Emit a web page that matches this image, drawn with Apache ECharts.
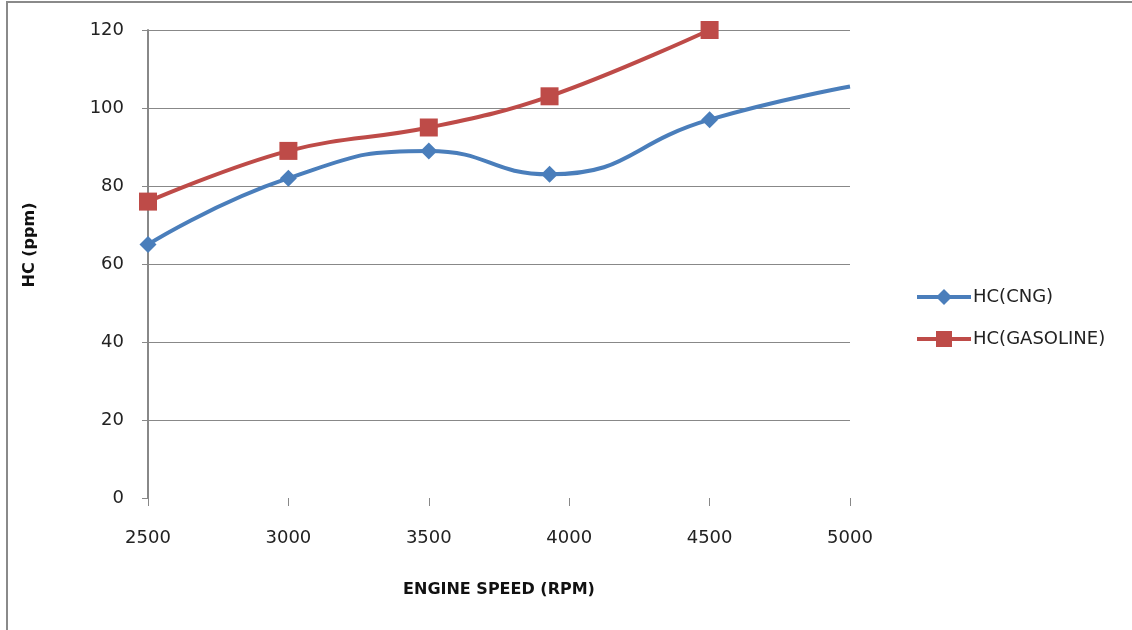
<!DOCTYPE html>
<html>
<head>
<meta charset="utf-8">
<script src="https://cdn.jsdelivr.net/npm/echarts@6/dist/echarts.min.js"></script>
<style>html,body{margin:0;padding:0;background:#fff;}#c{width:1132px;height:630px;}</style>
</head>
<body>
<div id="c"></div>
<script>
const seriesNames = ['HC(CNG)', 'HC(GASOLINE)'];
const cngRpm = [2500, 3000, 3500, 3930, 4500, 5000];
const cngHC = [65, 82, 89, 83, 97, 105.5];
const gasRpm = [2500, 3000, 3500, 3930, 4500];
const gasHC = [76, 89, 95, 103, 120];
const xTicks = [2500, 3000, 3500, 4000, 4500, 5000];
const yTicks = [0, 20, 40, 60, 80, 100, 120];

const font = 'DejaVu Sans';
const chart = echarts.init(document.getElementById('c'));
const cngData = cngRpm.map((x, i) => i === cngRpm.length - 1
  ? { value: [x, cngHC[i]], symbol: 'none' }
  : [x, cngHC[i]]);
const gasData = gasRpm.map((x, i) => [x, gasHC[i]]);

chart.setOption({
  animation: false,
  backgroundColor: '#fff',
  grid: { left: 148, right: 282, top: 30, bottom: 132, containLabel: false },
  xAxis: {
    type: 'value',
    min: xTicks[0], max: xTicks[xTicks.length - 1], interval: 500,
    axisLine: { show: false },
    axisTick: { show: true, length: 8, lineStyle: { color: '#888', width: 1 } },
    splitLine: { show: false },
    axisLabel: { color: '#222', fontFamily: font, fontSize: 18, margin: 31, formatter: v => String(v) },
    name: 'ENGINE SPEED (RPM)',
    nameLocation: 'middle',
    nameGap: 84,
    nameTextStyle: { color: '#111', fontFamily: font, fontWeight: 'bold', fontSize: 16 }
  },
  yAxis: {
    type: 'value',
    min: yTicks[0], max: yTicks[yTicks.length - 1], interval: 20,
    axisLine: { show: true, lineStyle: { color: '#888', width: 2 } },
    axisTick: { show: true, length: 6, lineStyle: { color: '#888', width: 1 } },
    splitLine: { show: true, showMinLine: false, lineStyle: { color: '#888', width: 1 } },
    axisLabel: { color: '#222', fontFamily: font, fontSize: 18, margin: 24, formatter: v => String(v) }
  },
  legend: {
    orient: 'vertical',
    left: 910, top: 283,
    itemGap: 24,
    itemWidth: 54, itemHeight: 20,
    lineStyle: { width: 4 },
    textStyle: { color: '#222', fontFamily: font, fontSize: 18, padding: [0, 0, 0, -3] },
    data: seriesNames
  },
  series: [
    {
      name: seriesNames[0], type: 'line', data: cngData, smooth: 0.5,
      symbol: 'diamond', symbolSize: 17,
      lineStyle: { color: '#4A7EBB', width: 4 },
      itemStyle: { color: '#4A7EBB' }
    },
    {
      name: seriesNames[1], type: 'line', data: gasData, smooth: 0.4,
      symbol: 'rect', symbolSize: 18,
      lineStyle: { color: '#BE4B48', width: 4 },
      itemStyle: { color: '#BE4B48' }
    }
  ],
  graphic: [
    { type: 'line', shape: { x1: 6, y1: 2, x2: 1132, y2: 2 }, style: { stroke: '#8a8a8a', lineWidth: 2 } },
    { type: 'line', shape: { x1: 7, y1: 2, x2: 7, y2: 630 }, style: { stroke: '#8a8a8a', lineWidth: 2 } },
    { type: 'text', x: 30, y: 245, rotation: Math.PI / 2, style: { text: 'HC (ppm)', fill: '#111', font: 'bold 16px "DejaVu Sans"', align: 'center', verticalAlign: 'middle' } }
  ]
});
</script>
</body>
</html>
